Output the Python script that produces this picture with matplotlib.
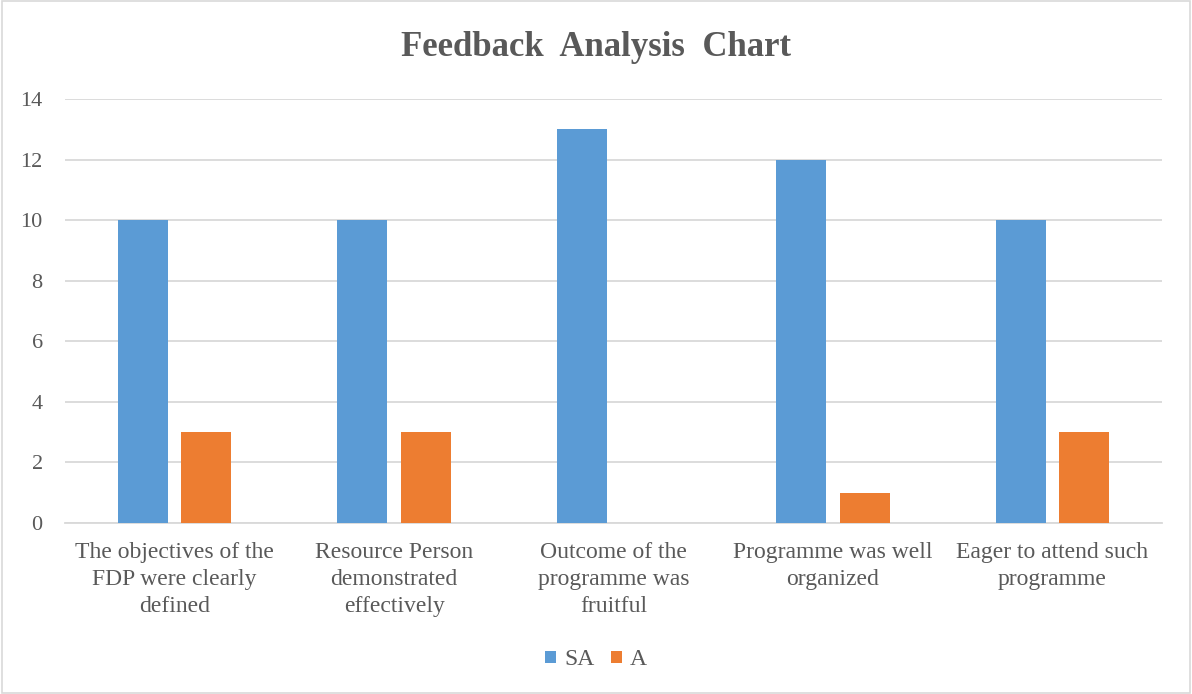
import matplotlib
matplotlib.use("Agg")
import matplotlib.pyplot as plt
from matplotlib.patches import Rectangle
import numpy as np

categories = [
    "The objectives of the\nFDP were clearly\ndefined",
    "Resource Person\ndemonstrated\neffectively",
    "Outcome of the\nprogramme was\nfruitful",
    "Programme was well\norganized",
    "Eager to attend such\nprogramme",
]
sa_values = [10, 10, 13, 12, 10]
a_values = [3, 3, 0, 1, 3]
series_names = ["SA", "A"]
y_ticks = [0, 2, 4, 6, 8, 10, 12, 14]

text_color = "#595959"
grid_color = "#d9d9d9"
sa_color = "#5B9BD5"
a_color = "#ED7D31"

plt.rcParams["font.family"] = ["Liberation Serif", "DejaVu Serif"]

fig = plt.figure(figsize=(11.92, 6.94), dpi=100)
ax = fig.add_axes([0.0545, 0.2464, 0.9205, 0.6109])

x = np.arange(len(categories))
width = 0.228
offset = 0.1445
ax.bar(x - offset, sa_values, width, color=sa_color, label=series_names[0], zorder=3)
ax.bar(x + offset, a_values, width, color=a_color, label=series_names[1], zorder=3)

ax.set_xlim(-0.5, len(categories) - 0.5)
ax.set_ylim(0, 14)
ax.set_yticks(y_ticks)
ax.yaxis.grid(True, color=grid_color, linewidth=1.3, zorder=0)
ax.set_axisbelow(True)
for side in ["left", "right", "top"]:
    ax.spines[side].set_visible(False)
ax.spines["bottom"].set_color(grid_color)
ax.spines["bottom"].set_linewidth(1.3)
ax.tick_params(axis="both", length=0, colors=text_color)
ax.tick_params(axis="y", pad=16, labelsize=16)
ax.tick_params(axis="x", pad=14, labelsize=17)
ax.set_xticks(x)
ax.set_xticklabels(categories, linespacing=1.37, va="top")

fig.text(0.5, 0.932, "Feedback  Analysis  Chart", ha="center", va="center",
         fontsize=25, fontweight="bold", color=text_color)

leg = fig.legend(loc="center", bbox_to_anchor=(0.5, 0.049), ncol=2, frameon=False,
                 fontsize=17, handlelength=0.45, handleheight=0.45, handletextpad=0.35,
                 columnspacing=0.7)
for t in leg.get_texts():
    t.set_color(text_color)

fig.patches.append(Rectangle((0.0015, 0.002), 0.997, 0.996, transform=fig.transFigure,
                             fill=False, edgecolor="#d9d9d9", linewidth=1.2))

fig.savefig("out.png", dpi=100)
